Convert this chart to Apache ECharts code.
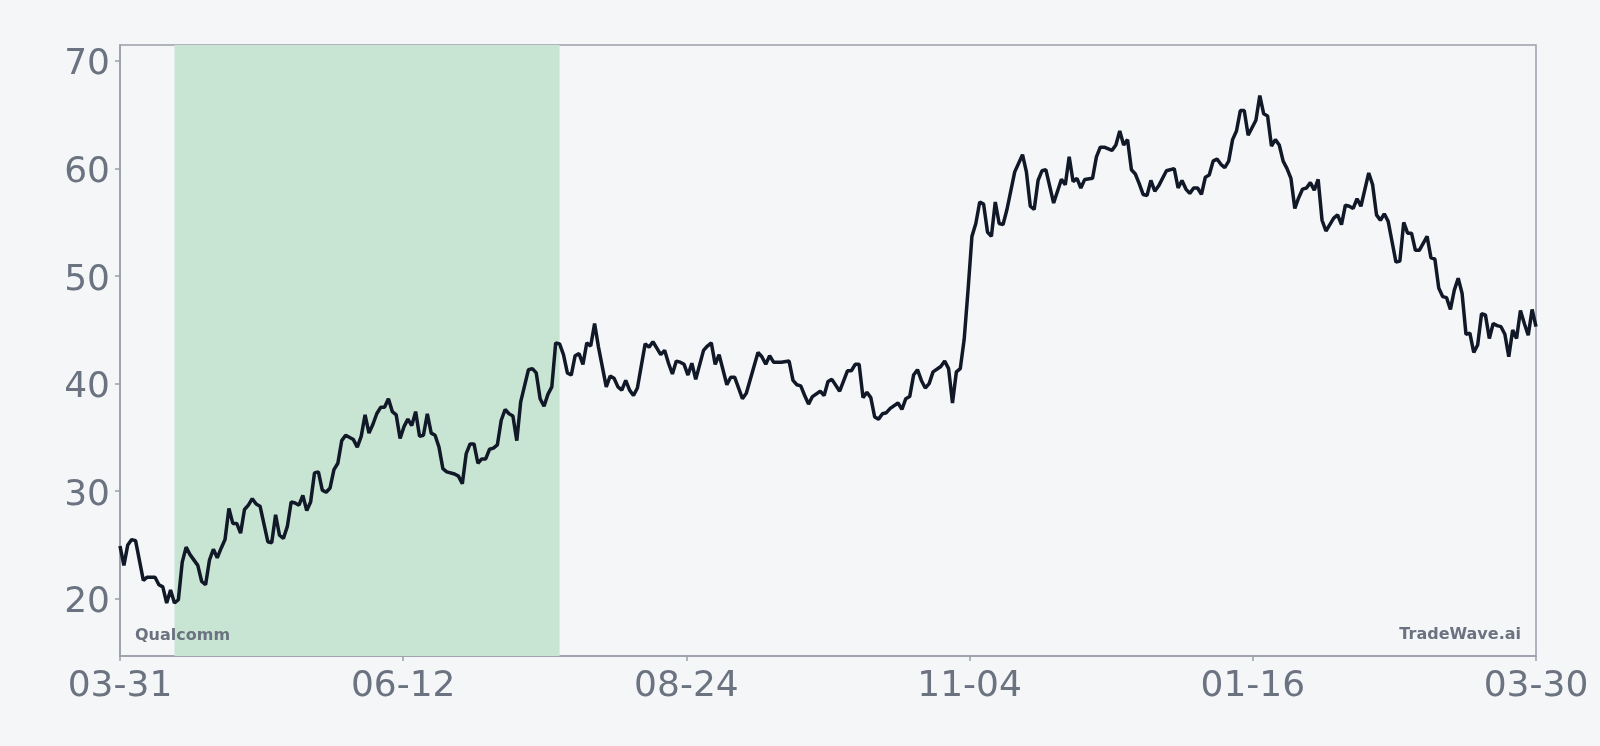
<!DOCTYPE html>
<meta charset="utf-8">
<style>
html, body { margin: 0; padding: 0; background: #f4f6f8; }
#main { width: 1600px; height: 746px; }
</style>
<div id="main"></div>
<script src="https://cdn.jsdelivr.net/npm/echarts/dist/echarts.min.js"></script>
<script>
// day offsets from 2024-03-31 and closing prices
var days = [
    0, 1, 2, 3, 4, 6, 7, 9, 10, 11,
    12, 13, 14, 15, 16, 17, 18, 20, 21, 22,
    23, 24, 25, 26, 27, 28, 29, 30, 31, 32,
    33, 34, 35, 36, 38, 39, 40, 41, 42, 43,
    44, 45, 46, 47, 48, 49, 50, 51, 52, 53,
    54, 55, 56, 57, 58, 60, 61, 62, 63, 64,
    65, 66, 67, 68, 69, 70, 71, 72, 73, 74,
    75, 76, 77, 78, 79, 80, 81, 82, 83, 84,
    86, 87, 88, 89, 90, 91, 92, 93, 94, 95,
    96, 97, 98, 99, 100, 101, 102, 103, 105, 106,
    107, 108, 109, 110, 111, 112, 113, 114, 115, 116,
    117, 118, 119, 120, 121, 122, 123, 125, 126, 127,
    128, 129, 130, 131, 132, 133, 135, 136, 137, 138,
    139, 140, 141, 142, 143, 144, 145, 146, 147, 148,
    150, 151, 152, 153, 154, 156, 157, 158, 160, 161,
    164, 165, 166, 167, 168, 170, 172, 173, 174, 175,
    176, 177, 178, 180, 181, 182, 183, 185, 187, 188,
    189, 190, 191, 192, 193, 194, 195, 196, 197, 198,
    200, 201, 202, 203, 204, 205, 206, 207, 208, 209,
    211, 212, 213, 214, 215, 216, 217, 218, 219, 220,
    221, 222, 223, 224, 225, 226, 227, 228, 230, 232,
    233, 234, 235, 236, 237, 238, 240, 241, 242, 243,
    244, 245, 246, 247, 248, 250, 251, 252, 253, 255,
    256, 257, 258, 259, 260, 261, 262, 263, 264, 265,
    266, 267, 269, 271, 272, 273, 274, 275, 276, 277,
    278, 279, 280, 281, 282, 283, 284, 285, 286, 287,
    288, 289, 290, 291, 292, 293, 294, 295, 296, 297,
    298, 299, 300, 301, 302, 303, 304, 305, 306, 307,
    308, 309, 310, 311, 312, 313, 314, 315, 316, 317,
    318, 319, 321, 322, 323, 324, 325, 326, 327, 328,
    329, 330, 331, 332, 333, 334, 336, 337, 338, 339,
    340, 341, 342, 343, 344, 345, 346, 347, 348, 349,
    350, 351, 352, 353, 354, 355, 356, 357, 358, 359,
    360, 361, 362, 363, 364
];
var prices = [
    24.9, 23.1, 25.0, 25.5, 25.4, 21.7, 22.0, 22.0, 21.3, 21.1,
    19.6, 20.8, 19.6, 19.9, 23.4, 24.8, 24.1, 23.1, 21.6, 21.3,
    23.6, 24.6, 23.8, 24.7, 25.5, 28.4, 27.0, 27.0, 26.1, 28.3,
    28.7, 29.3, 28.8, 28.6, 25.3, 25.2, 27.8, 25.9, 25.6, 26.7,
    29.0, 28.9, 28.7, 29.6, 28.2, 29.0, 31.7, 31.8, 30.1, 29.9,
    30.3, 32.0, 32.6, 34.7, 35.2, 34.8, 34.1, 35.1, 37.1, 35.4,
    36.2, 37.2, 37.8, 37.8, 38.6, 37.4, 37.1, 34.9, 36.0, 36.7,
    36.1, 37.4, 35.1, 35.2, 37.2, 35.4, 35.2, 34.1, 32.1, 31.8,
    31.6, 31.4, 30.7, 33.5, 34.4, 34.4, 32.6, 33.0, 33.0, 33.9,
    34.0, 34.3, 36.6, 37.6, 37.2, 37.0, 34.7, 38.3, 41.3, 41.4,
    41.0, 38.6, 37.9, 39.0, 39.7, 43.8, 43.7, 42.7, 41.0, 40.8,
    42.6, 42.8, 41.8, 43.8, 43.5, 45.6, 43.4, 39.7, 40.7, 40.5,
    39.7, 39.4, 40.3, 39.4, 38.9, 39.6, 43.7, 43.4, 43.9, 43.3,
    42.7, 43.1, 41.9, 40.9, 42.1, 42.0, 41.8, 40.8, 41.9, 40.4,
    43.1, 43.5, 43.8, 41.8, 42.7, 39.9, 40.6, 40.6, 38.6, 39.1,
    42.9, 42.5, 41.8, 42.6, 42.0, 42.0, 42.1, 40.3, 39.9, 39.8,
    38.9, 38.1, 38.8, 39.3, 38.9, 40.2, 40.4, 39.3, 41.2, 41.2,
    41.8, 41.8, 38.7, 39.2, 38.7, 36.9, 36.7, 37.2, 37.3, 37.7,
    38.2, 37.6, 38.6, 38.8, 40.8, 41.3, 40.3, 39.6, 40.0, 41.1,
    41.6, 42.1, 41.4, 38.2, 41.1, 41.4, 44.1, 48.7, 53.7, 54.9,
    56.9, 56.7, 54.1, 53.7, 56.9, 54.9, 54.8, 56.2, 59.7, 61.3,
    59.7, 56.5, 56.2, 58.9, 59.8, 59.9, 56.8, 57.9, 59.0, 58.5,
    61.1, 58.8, 59.1, 58.2, 59.0, 59.1, 61.1, 62.0, 62.0, 61.7,
    62.2, 63.5, 62.2, 62.7, 59.9, 59.5, 58.6, 57.6, 57.5, 58.9,
    57.9, 58.4, 59.8, 60.0, 58.2, 58.9, 58.1, 57.7, 58.2, 58.2,
    57.6, 59.2, 59.4, 60.7, 60.9, 60.4, 60.1, 60.7, 62.7, 63.5,
    65.4, 65.4, 63.1, 63.8, 64.5, 66.8, 65.1, 64.9, 62.1, 62.7,
    62.2, 60.7, 60.0, 59.1, 56.3, 57.3, 58.1, 58.2, 58.7, 58.0,
    59.0, 55.2, 54.2, 54.8, 55.4, 55.7, 54.8, 56.6, 56.5, 56.3,
    57.2, 56.5, 59.6, 58.5, 55.7, 55.2, 55.8, 55.1, 53.2, 51.3,
    51.4, 55.0, 54.0, 54.0, 52.4, 52.4, 53.7, 51.7, 51.6, 48.9,
    48.1, 48.0, 46.9, 48.7, 49.8, 48.4, 44.6, 44.7, 42.9, 43.6,
    46.5, 46.4, 44.2, 45.6, 45.4, 45.3, 44.6, 42.5, 45.0, 44.2,
    46.8, 45.6, 44.5, 46.9, 45.3
];
var tickLabels = ['03-31', '06-12', '08-24', '11-04', '01-16', '03-30'];
var highlight = [14, 113]; // 04-14 .. 07-22
var ticker = 'Qualcomm';
var brand = 'TradeWave.ai';

var totalDays = 364;
var tickStep = totalDays / 5;
var axisColor = '#9a9ea8';
var labelColor = '#6b7280';

var chart = echarts.init(document.getElementById('main'));

var option = {
    animation: false,
    backgroundColor: '#f4f6f8',
    grid: {
        left: 120, right: 64, top: 45, bottom: 90,
        show: true,
        borderColor: axisColor,
        borderWidth: 1.5
    },
    xAxis: {
        type: 'value',
        min: 0,
        max: totalDays,
        interval: tickStep,
        axisLine: { show: true, lineStyle: { color: axisColor, width: 1.5 } },
        axisTick: { show: true, length: 5, lineStyle: { color: axisColor, width: 1.5 } },
        splitLine: { show: false },
        axisLabel: {
            fontSize: 36,
            fontFamily: 'DejaVu Sans',
            color: labelColor,
            margin: 13,
            formatter: function (v) {
                return tickLabels[Math.round(v / tickStep)] || '';
            }
        }
    },
    yAxis: {
        type: 'value',
        min: 14.67,
        max: 71.5,
        splitNumber: 5,
        axisLine: { show: true, lineStyle: { color: axisColor, width: 1.5 } },
        axisTick: { show: true, length: 5, lineStyle: { color: axisColor, width: 1.5 } },
        splitLine: { show: false },
        axisLabel: {
            margin: 10,
            showMinLabel: false,
            showMaxLabel: false,
            formatter: function (v) { return '{n|' + v + '}'; },
            rich: {
                n: {
                    fontSize: 36,
                    fontFamily: 'DejaVu Sans',
                    color: labelColor,
                    padding: [8, 0, 0, 0]
                }
            }
        }
    },
    series: [{
        type: 'line',
        data: days.map(function (d, i) { return [d, prices[i]]; }),
        symbol: 'none',
        lineStyle: { color: '#111827', width: 3.5 },
        markArea: {
            silent: true,
            itemStyle: { color: '#c8e5d4', opacity: 1 },
            data: [[{ xAxis: highlight[0] }, { xAxis: highlight[1] }]]
        }
    }],
    graphic: [{
        type: 'text',
        left: 135,
        top: 628,
        z: 100,
        style: {
            text: ticker,
            font: 'bold 16px "DejaVu Sans"',
            fill: labelColor
        }
    }, {
        type: 'text',
        right: 79,
        top: 627,
        z: 100,
        style: {
            text: brand,
            font: 'bold 16px "DejaVu Sans"',
            fill: labelColor
        }
    }]
};

chart.setOption(option);
</script>
